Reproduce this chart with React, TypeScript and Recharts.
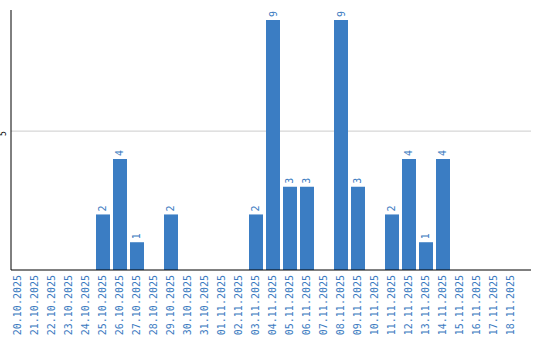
import React from 'react';
import { BarChart, Bar, XAxis, YAxis, CartesianGrid, LabelList } from 'recharts';

const dates = [
  '20.10.2025', '21.10.2025', '22.10.2025', '23.10.2025', '24.10.2025',
  '25.10.2025', '26.10.2025', '27.10.2025', '28.10.2025', '29.10.2025',
  '30.10.2025', '31.10.2025', '01.11.2025', '02.11.2025', '03.11.2025',
  '04.11.2025', '05.11.2025', '06.11.2025', '07.11.2025', '08.11.2025',
  '09.11.2025', '10.11.2025', '11.11.2025', '12.11.2025', '13.11.2025',
  '14.11.2025', '15.11.2025', '16.11.2025', '17.11.2025', '18.11.2025',
];
const counts = [0, 0, 0, 0, 0, 2, 4, 1, 0, 2, 0, 0, 0, 0, 2, 9, 3, 3, 0, 9, 3, 0, 2, 4, 1, 4, 0, 0, 0, 0];
const yTicks = [5];

const data = dates.map((d, i) => ({ date: d, value: counts[i] }));

const BLUE = '#3b7dc3';
const TEXT_BLUE = '#3a7abf';
const FONT = '"DejaVu Sans Mono", monospace';

const XTick = (props: any) => {
  const { x, y, payload } = props;
  return (
    <text
      x={x - 1}
      y={y}
      transform={`rotate(-90, ${x - 1}, ${y})`}
      textAnchor="end"
      dominantBaseline="central"
      fill={TEXT_BLUE}
      fontSize={10}
      fontFamily={FONT}
    >
      {payload.value}
    </text>
  );
};

const YTick = (props: any) => {
  const { y, payload } = props;
  const cx = 4;
  return (
    <text
      x={cx}
      y={y}
      transform={`rotate(-90, ${cx}, ${y})`}
      textAnchor="end"
      dominantBaseline="central"
      fill="#000"
      fontSize={8}
      fontFamily={FONT}
    >
      {payload.value}
    </text>
  );
};

const ValueLabel = (props: any) => {
  const { x, y, width, value } = props;
  if (!value) return null;
  const cx = x + width / 2;
  const cy = y - 3;
  return (
    <text
      x={cx}
      y={cy}
      transform={`rotate(-90, ${cx}, ${cy})`}
      textAnchor="start"
      dominantBaseline="central"
      fill={TEXT_BLUE}
      fontSize={10}
      fontFamily={FONT}
    >
      {value}
    </text>
  );
};

export default function App() {
  return (
    <div style={{ position: 'absolute', left: 0, top: 0, width: 540, height: 340, background: '#fff' }}>
      <BarChart
        width={540}
        height={340}
        data={data}
        margin={{ top: 10, right: 9, bottom: 0, left: 0 }}
        barCategoryGap={1.5}
      >
        <CartesianGrid horizontal={true} vertical={false} stroke="#cccccc" horizontalValues={yTicks} />
        <XAxis
          dataKey="date"
          interval={0}
          tick={<XTick />}
          tickLine={false}
          tickSize={0}
          tickMargin={5}
          axisLine={{ stroke: '#000', strokeWidth: 1 }}
          height={70}
          padding={{ left: -1.5, right: 11.5 }}
        />
        <YAxis
          width={11}
          domain={[0, 9.36]}
          ticks={yTicks}
          tick={<YTick />}
          tickLine={false}
          axisLine={{ stroke: '#000', strokeWidth: 1 }}
          allowDataOverflow
        />
        <Bar dataKey="value" fill={BLUE} isAnimationActive={false}>
          <LabelList dataKey="value" content={<ValueLabel />} />
        </Bar>
      </BarChart>
    </div>
  );
}
